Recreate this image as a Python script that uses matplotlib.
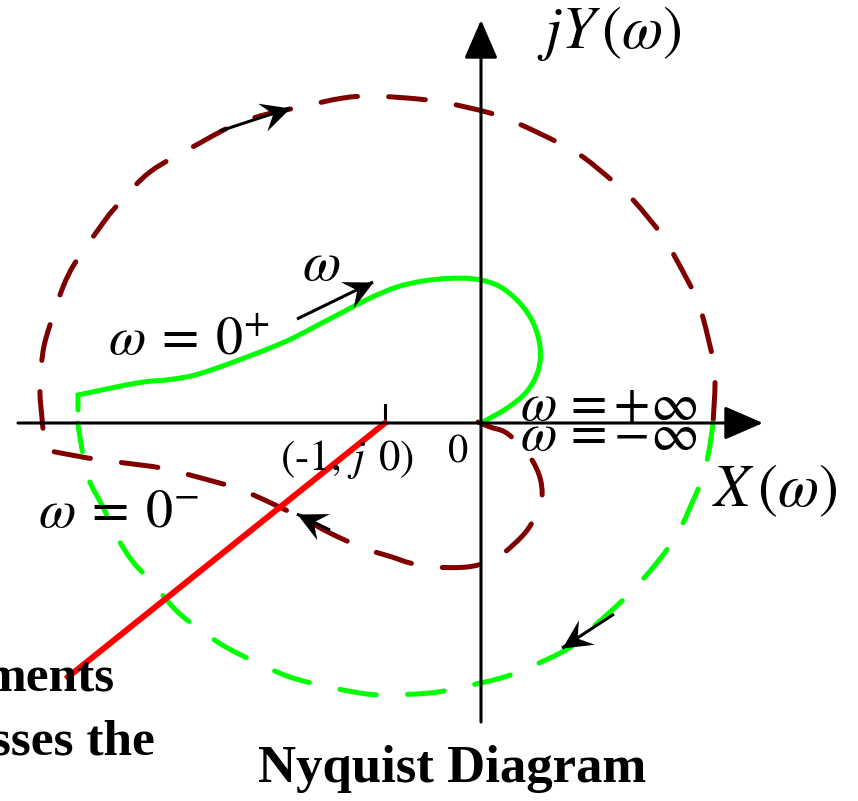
import numpy as np
import matplotlib
matplotlib.use("Agg")
import matplotlib.pyplot as plt
from matplotlib.markers import MarkerStyle
from matplotlib.path import Path
from matplotlib.patches import PathPatch
from matplotlib.transforms import Affine2D

plt.rcParams["mathtext.fontset"] = "stix"
plt.rcParams["lines.scale_dashes"] = False

# ---- curve data (X(w), Y(w)) ----
# omega from 0+ to +inf (solid branch)
pos_x = [-4.198, -4.198, -3.583, -3.240, -3.000, -2.750, -2.438, -2.198, -1.958,
         -1.698, -1.438, -1.156, -0.875, -0.604, -0.323, -0.045, 0.198, 0.406,
         0.545, 0.615, 0.597, 0.476, 0.268, 0.0]
pos_y = [0.135, 0.292, 0.417, 0.453, 0.495, 0.573, 0.688, 0.781, 0.885,
         1.021, 1.156, 1.302, 1.417, 1.479, 1.507, 1.497, 1.420, 1.247,
         1.039, 0.795, 0.552, 0.326, 0.153, 0.0]
pos_corners = [1]

# omega from -inf to 0- (dashed branch)
neg_x = [2.417, 2.385, 2.333, 2.271, 2.188, 2.104, 1.948, 1.813, 1.688, 1.479,
         1.167, 0.917, 0.510, 0.208, -0.240, -0.542, -1.031, -1.323, -1.771,
         -2.073, -2.479, -2.760, -3.125, -3.344, -3.448, -3.625, -3.792, -3.938,
         -4.094, -4.177, -4.198]
neg_y = [0.0, -0.229, -0.490, -0.667, -0.854, -1.042, -1.302, -1.479, -1.625,
         -1.844, -2.125, -2.344, -2.542, -2.656, -2.760, -2.813, -2.833, -2.802,
         -2.708, -2.615, -2.427, -2.271, -2.000, -1.760, -1.635, -1.448, -1.188,
         -0.875, -0.563, -0.156, 0.0]
neg_corners = []

# closing contour (dashed, dark red)
loop_x = [-0.031, 0.094, 0.25, 0.406, 0.531, 0.615, 0.635, 0.573, 0.458, 0.25,
          0.094, -0.146, -0.5, -0.740, -0.927, -1.229, -1.573, -1.885, -2.323,
          -2.583, -3.031, -3.323, -3.792, -4.094, -4.542, -4.573, -4.594, -4.563,
          -4.490, -4.354, -4.229, -3.990, -3.813, -3.448, -2.927, -2.615, -2.302,
          -1.885, -1.438, -1.125, -0.656, -0.354, 0.094, 0.375, 0.792, 1.063,
          1.396, 1.604, 1.885, 2.021, 2.229, 2.313, 2.417, 2.438, 2.417]
loop_y = [0.010, -0.042, -0.094, -0.229, -0.385, -0.573, -0.771, -0.958, -1.146,
          -1.344, -1.438, -1.5, -1.5, -1.458, -1.396, -1.302, -1.146, -0.979,
          -0.771, -0.667, -0.542, -0.469, -0.406, -0.365, -0.281, 0.052, 0.344,
          0.740, 1.021, 1.417, 1.667, 2.010, 2.240, 2.615, 2.917, 3.083, 3.198,
          3.292, 3.385, 3.406, 3.375, 3.333, 3.229, 3.125, 2.927, 2.771, 2.5,
          2.302, 1.958, 1.729, 1.333, 1.094, 0.656, 0.417, 0.0]
loop_corners = [24]

# ray from the critical point
ray_x = [-1.0, -4.302]
ray_y = [0.0, -2.646]
critical_point = (-1.0, 0.0)

# direction arrows: (tail, tip)
direction_arrows = [
    ((-2.719, 3.042), (-1.990, 3.281)),
    ((-1.917, 1.083), (-1.125, 1.469)),
    ((-1.573, -1.115), (-1.917, -0.948)),
    ((1.385, -1.990), (0.844, -2.344)),
]

# axis extents
x_axis = (-4.823, 2.9375)
y_axis = (-3.115, 4.198)

MAROON = "#800000"
LIME = "#00ff00"
RED = "#ff0000"


def smooth_path(xs, ys, corners):
    """Cubic Bezier path through the points (Catmull-Rom tangents),
    keeping sharp joins at the given corner indices."""
    pts = np.column_stack([xs, ys])
    n = len(pts)
    breaks = [0] + list(corners) + [n - 1]
    verts = [pts[0]]
    codes = [Path.MOVETO]
    for a, b in zip(breaks[:-1], breaks[1:]):
        seg = pts[a:b + 1]
        m = len(seg)
        for i in range(m - 1):
            p0 = seg[i - 1] if i > 0 else seg[i]
            p1, p2 = seg[i], seg[i + 1]
            p3 = seg[i + 2] if i + 2 < m else seg[i + 1]
            c1 = p1 + (p2 - p0) / 6.0
            c2 = p2 - (p3 - p1) / 6.0
            verts += [c1, c2, p2]
            codes += [Path.CURVE4] * 3
    return Path(verts, codes)


fig = plt.figure(figsize=(8.58, 8.01), dpi=100)
ax = fig.add_axes([0, 0, 1, 1])
ax.set_xlim(-481 / 96, 377 / 96)
ax.set_ylim(-378 / 96, 423 / 96)
ax.set_aspect("equal")
ax.axis("off")

dash = (0, (26.5, 22.5))

# coordinate axes with arrow heads
axis_arrow = dict(arrowstyle="-|>,head_length=1.2,head_width=0.52",
                  mutation_scale=20, lw=2.2, color="black",
                  shrinkA=0, shrinkB=0)
ax.annotate("", xy=(x_axis[1], 0), xytext=(x_axis[0], 0), arrowprops=axis_arrow)
ax.annotate("", xy=(0, y_axis[1]), xytext=(0, y_axis[0]), arrowprops=axis_arrow)
ax.plot([critical_point[0]] * 2, [0, 0.19], color="black", lw=2.2)

ax.add_patch(PathPatch(smooth_path(loop_x, loop_y, loop_corners), fill=False,
                       edgecolor=MAROON, lw=3.6, ls=dash, capstyle="round",
                       joinstyle="round"))
ax.add_patch(PathPatch(smooth_path(neg_x, neg_y, neg_corners), fill=False,
                       edgecolor=LIME, lw=3.6, ls=dash, capstyle="round",
                       joinstyle="round"))
ax.add_patch(PathPatch(smooth_path(pos_x, pos_y, pos_corners), fill=False,
                       edgecolor=LIME, lw=3.6, capstyle="round",
                       joinstyle="miter"))
ax.plot(ray_x, ray_y, color=RED, lw=4.3)

# stealth-style arrow head, tip at the origin of the path
head = Path([(0, 0), (-1.0, 0.5), (-0.62, 0), (-1.0, -0.5), (0, 0)],
            [Path.MOVETO, Path.LINETO, Path.LINETO, Path.LINETO, Path.CLOSEPOLY])
for (tx, ty), (hx, hy) in direction_arrows:
    ang = np.degrees(np.arctan2(hy - ty, hx - tx))
    ax.plot([tx, hx], [ty, hy], color="black", lw=2.2, solid_capstyle="butt")
    ms = MarkerStyle(head, transform=Affine2D().rotate_deg(ang))
    ax.plot([hx], [hy], marker=ms, markersize=42, color="black", mew=0)

ax.text(0.583, 4.06, r"$jY\,(\omega)$", fontsize=43, ha="left", va="center")
ax.text(2.406, -0.698, r"$X\,(\omega)$", fontsize=43, ha="left", va="center")
ax.text(-3.885, 0.708, r"$\omega\:=\:0^{+}$", fontsize=39, ha="left", va="baseline")
ax.text(-1.865, 1.49, r"$\omega$", fontsize=40, ha="left", va="baseline")
ax.text(-4.615, -1.083, r"$\omega\:=\:0^{-}$", fontsize=39, ha="left", va="baseline")
ax.text(0.406, 0.03, r"$\omega\,=+\infty$", fontsize=38, ha="left", va="baseline")
ax.text(0.406, -0.281, r"$\omega\,=-\infty$", fontsize=38, ha="left", va="baseline")
ax.text(-2.094, -0.49, r"$\mathrm{(\text{-}1,}\,j\;\,\mathrm{0)}$", fontsize=31,
        ha="left", va="baseline")
ax.text(-0.354, -0.406, r"$\mathrm{0}$", fontsize=29, ha="left", va="baseline")

serif_bold = dict(family="Liberation Serif", weight="bold")
ax.text(-0.302, -3.74, "Nyquist Diagram", fontsize=38, ha="center",
        va="baseline", **serif_bold)
ax.text(-3.8125, -2.802, "ments", fontsize=37, ha="right", va="baseline",
        **serif_bold)
ax.text(-3.396, -3.458, "sses the", fontsize=37, ha="right", va="baseline",
        **serif_bold)

fig.savefig("out.png", dpi=100)
